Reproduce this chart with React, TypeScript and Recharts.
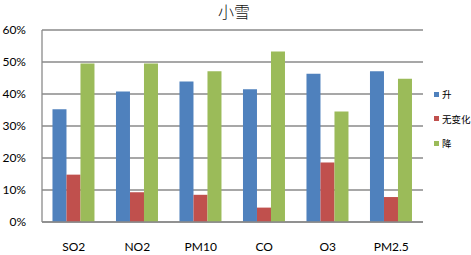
import React from 'react';
import { BarChart, Bar, XAxis, YAxis, CartesianGrid } from 'recharts';

const categories = ['SO2', 'NO2', 'PM10', 'CO', 'O3', 'PM2.5'];
const riseValues = [35.2, 40.8, 43.9, 41.5, 46.3, 47.1];
const noChangeValues = [14.8, 9.3, 8.5, 4.5, 18.6, 7.8];
const fallValues = [49.5, 49.5, 47.1, 53.3, 34.5, 44.8];
const yTicks = [0, 10, 20, 30, 40, 50, 60];
const seriesNames = ['升', '无变化', '降'];
const seriesColors = ['#4F81BD', '#C0504D', '#9BBB59'];

const data = categories.map((c, i) => ({
  name: c,
  rise: riseValues[i],
  same: noChangeValues[i],
  fall: fallValues[i],
}));

const tickFont = { fontFamily: 'Lato, "Open Sans", sans-serif', fontSize: 12, fill: '#000' };

export default function App() {
  return (
    <div style={{ position: 'absolute', left: 0, top: 0, width: 471, height: 255, background: '#fff' }}>
      <div
        style={{
          position: 'absolute',
          left: 0,
          width: 468,
          top: 0,
          textAlign: 'center',
          fontFamily: '"Noto Sans CJK SC", sans-serif',
          fontSize: 16,
          fontWeight: 300,
          color: '#111',
          lineHeight: '23px',
        }}
      >
        小雪
      </div>
      <BarChart
        width={471}
        height={255}
        data={data}
        margin={{ top: 30, right: 48, bottom: 0, left: 0 }}
        barCategoryGap="16.5%"
        barGap={0}
      >
        <CartesianGrid vertical={false} stroke="#8a8a8a" strokeWidth={1.3} />
        <XAxis
          dataKey="name"
          height={33}
          tickLine={false}
          axisLine={{ stroke: '#8a8a8a', strokeWidth: 1.3 }}
          tick={tickFont}
          tickMargin={14}
          interval={0}
        />
        <YAxis
          width={42}
          domain={[0, 60]}
          ticks={yTicks}
          tickFormatter={(v: number) => `${v}%`}
          tickLine={false}
          axisLine={{ stroke: '#8a8a8a', strokeWidth: 1.3 }}
          tick={tickFont}
          tickMargin={10}
          interval={0}
        />
        <Bar dataKey="rise" fill={seriesColors[0]} isAnimationActive={false} />
        <Bar dataKey="same" fill={seriesColors[1]} isAnimationActive={false} />
        <Bar dataKey="fall" fill={seriesColors[2]} isAnimationActive={false} />
      </BarChart>
      {seriesNames.map((n, i) => (
        <div
          key={n}
          style={{
            position: 'absolute',
            left: 434,
            top: 87 + i * 24.6,
            height: 14,
            display: 'flex',
            alignItems: 'center',
            whiteSpace: 'nowrap',
            fontFamily: '"Noto Sans CJK SC", sans-serif',
            fontSize: 9.5,
            color: '#000',
          }}
        >
          <span style={{ display: 'inline-block', width: 5, height: 5, background: seriesColors[i], marginRight: 3, flexShrink: 0 }} />
          <span>{n}</span>
        </div>
      ))}
    </div>
  );
}
